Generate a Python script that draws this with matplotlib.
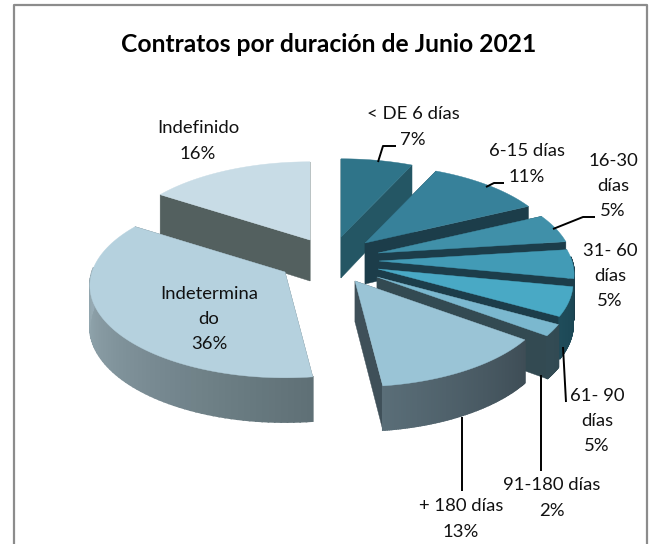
import matplotlib
matplotlib.use('Agg')
import matplotlib.pyplot as plt
import numpy as np
from matplotlib.colors import to_rgb

# Datos
categorias = ['< DE 6 días', '6-15 días', '16-30 días', '31- 60 días', '61- 90 días',
              '91-180 días', '+ 180 días', 'Indeterminado', 'Indefinido']
porcentajes = [7, 11, 5, 5, 5, 2, 13, 36, 16]

# Etiquetas tal como salen en el grafico
etiquetas = ['< DE 6 días\n7%', '6-15 días\n11%', '16-30\ndías\n5%', '31- 60\ndías\n5%',
             '61- 90\ndías\n5%', '91-180 días\n2%', '+ 180 días\n13%',
             'Indetermina\ndo\n36%', 'Indefinido\n16%']
pos_etiquetas = [(413, 127), (527, 164), (613, 186), (610, 276), (597, 421),
                 (552, 498), (461, 519), (209, 319), (198, 141)]

# Vertice de cada porcion ya explotada (pixeles)
vertices = [(341, 237), (365, 243), (378, 253), (379, 261), (378, 269),
            (377, 277), (355, 281), (285, 272), (310, 240)]

col_top = ['#2F7489', '#37819A', '#4090A9', '#429BB6', '#49A9C5',
           '#7BB8CF', '#9AC4D6', '#B5D1DE', '#C8DCE6']
col_corte = ['#245664', '#1C3D4A', '#1C3D4A', '#1C3D4A', '#1C3D4A',
             '#334A52', '#3F5059', '#5F7076', '#53605F']
col_lado = [('#245664', '#245664'), ('#1C3D4A', '#1C3D4A'), ('#1C3D4A', '#1C3D4A'),
            ('#1C3D4A', '#1C3D4A'), ('#1B4654', '#1F4C5A'), ('#324A53', '#334B54'),
            ('#3E4D56', '#5A6E78'), ('#5F7076', '#A8BDC7'), ('#53605F', '#53605F')]

# Lineas guia
guias = [[(378, 162), (383, 146), (396, 146)],
         [(486, 187), (494, 183), (504, 183)],
         [(553, 229), (583, 217), (595, 217)],
         [(563, 347), (566, 402)],
         [(541, 375), (541, 471)],
         [(462, 417), (462, 491)]]

RX, RY, K, PROF = 193, 92, 0.15, 41

fig = plt.figure(figsize=(6.54, 5.44), dpi=100)
ax = fig.add_axes([0, 0, 1, 1])
ax.set_xlim(0, 654)
ax.set_ylim(544, 0)
ax.axis('off')


def arco(apex, t):
    # perspectiva simple: lo de delante se ve mas grande
    t = np.radians(t)
    s = 1 - K * np.cos(t)
    return apex[0] + RX * s * np.sin(t), apex[1] - RY * s * np.cos(t)


def prof(t):
    return PROF * (1 - 0.08 * np.cos(np.radians(t)))


def mezcla(c1, c2, f):
    return tuple((1 - f) * a + f * b for a, b in zip(to_rgb(c1), to_rgb(c2)))


acum = np.cumsum([0] + porcentajes) * 3.6
orden = [0, 8, 1, 2, 3, 4, 5, 6, 7]
z = 2
for i in orden:
    t0, t1 = acum[i], acum[i + 1]
    ap = vertices[i]
    ts = np.linspace(t0, t1, 80)
    xs, ys = arco(ap, ts)

    # caras de corte
    for t in (t0, t1):
        ex, ey = arco(ap, t)
        d = prof(t)
        ax.fill([ap[0], ex, ex, ap[0]], [ap[1], ey, ey + d, ap[1] + PROF],
                color=col_corte[i], lw=0.3, zorder=z)
    z += 1

    # pared exterior con degradado
    for j in range(len(ts) - 1):
        if np.cos(np.radians(ts[j])) > 0.05:
            continue
        f = (ts[j] - t0) / (t1 - t0)
        c = mezcla(col_lado[i][0], col_lado[i][1], f)
        d0, d1 = prof(ts[j]), prof(ts[j + 1])
        ax.fill([xs[j], xs[j + 1], xs[j + 1], xs[j]],
                [ys[j], ys[j + 1], ys[j + 1] + d1, ys[j] + d0],
                color=c, lw=1.2, zorder=z)
    z += 1

    # tapa
    ax.fill(np.r_[ap[0], xs], np.r_[ap[1], ys], color=col_top[i], lw=0.3, zorder=z)
    z += 1

for g in guias:
    ax.plot([p[0] for p in g], [p[1] for p in g], color='black', lw=1.4, zorder=50,
            solid_capstyle='butt')

for txt, (x, y) in zip(etiquetas, pos_etiquetas):
    ax.text(x, y, txt, ha='center', va='center', fontsize=13.3, family='Lato',
            linespacing=1.72, color='#111111', zorder=60)

ax.text(329, 44, 'Contratos por duración de Junio 2021', ha='center', va='center',
        fontsize=17.7, family='Lato', fontweight='bold', color='black', zorder=60)

# marco
ax.plot([14, 14, 647, 647], [544, 5, 5, 544], color='#8C8C8C', lw=1.6, zorder=70)

fig.savefig('out.png', dpi=100, facecolor='white')
